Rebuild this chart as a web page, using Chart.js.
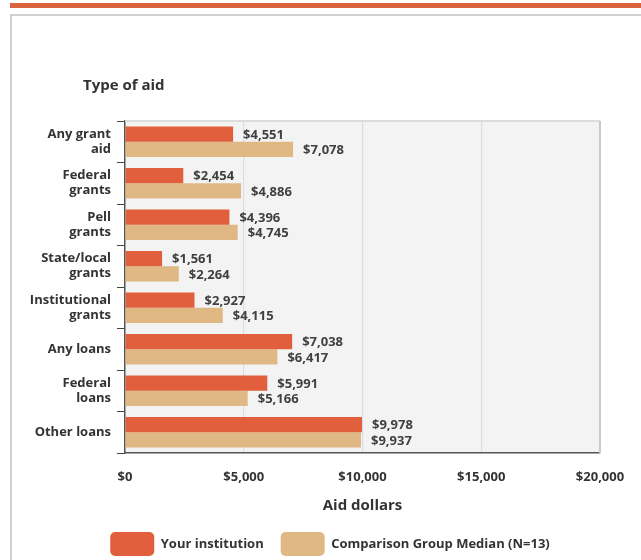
<!DOCTYPE html>
<html>
<head>
<meta charset="utf-8">
<script src="https://cdn.jsdelivr.net/npm/chart.js@4/dist/chart.umd.min.js"></script>
<style>
  html, body { margin: 0; padding: 0; width: 641px; height: 560px; overflow: hidden; background: #fff; }
  #topbar { position: absolute; left: 10px; top: 3px; width: 631px; height: 5px; background: #d9623f; }
  #panel { position: absolute; left: 10px; top: 14px; width: 660px; height: 600px; border: 2px solid #d0d0d0; box-sizing: border-box; }
  #wrap { position: absolute; left: 0; top: 0; width: 641px; height: 566px; }
</style>
</head>
<body>
<div id="topbar"></div>
<div id="panel"></div>
<div id="wrap"><canvas id="c" width="641" height="566"></canvas></div>
<script>
const chartTitle = 'Type of aid';
const categories = [
  ['Any grant', 'aid'],
  ['Federal', 'grants'],
  ['Pell', 'grants'],
  ['State/local', 'grants'],
  ['Institutional', 'grants'],
  'Any loans',
  ['Federal', 'loans'],
  'Other loans'
];
const seriesNames = ['Your institution', 'Comparison Group Median (N=13)'];
const yourInstitution = [4551, 2454, 4396, 1561, 2927, 7038, 5991, 9978];
const comparisonMedian = [7078, 4886, 4745, 2264, 4115, 6417, 5166, 9937];
const xTickValues = [0, 5000, 10000, 15000, 20000];
const xAxisTitle = 'Aid dollars';

const FONT = '"Open Sans", "DejaVu Sans", sans-serif';
const fmt = v => '$' + Number(v).toLocaleString('en-US');

const decorPlugin = {
  id: 'decor',
  beforeDraw(chart) {
    const {ctx, chartArea: a} = chart;
    ctx.save();
    ctx.fillStyle = '#f3f3f3';
    ctx.fillRect(a.left, a.top, a.right - a.left, a.bottom - a.top);
    ctx.restore();
  },
  afterLayout(chart) {
    if (chart.legend) { chart.legend.left = 20; chart.legend.right = 640; }
  },
  beforeDatasetsDraw(chart) {
    const {ctx, chartArea: a} = chart;
    ctx.save();
    ctx.strokeStyle = '#dcdcdc';
    ctx.lineWidth = 2;
    ctx.beginPath();
    ctx.moveTo(a.left, a.top);
    ctx.lineTo(a.right, a.top);
    ctx.stroke();
    ctx.strokeStyle = '#c9c9c9';
    ctx.beginPath();
    ctx.moveTo(a.right, a.top);
    ctx.lineTo(a.right, a.bottom);
    ctx.stroke();
    ctx.restore();
  },
  afterDatasetsDraw(chart) {
    const {ctx} = chart;
    ctx.save();
    ctx.font = 'bold 13px ' + FONT;
    ctx.fillStyle = '#404040';
    ctx.textBaseline = 'middle';
    ctx.textAlign = 'left';
    chart.data.datasets.forEach((ds, di) => {
      const meta = chart.getDatasetMeta(di);
      meta.data.forEach((bar, i) => {
        ctx.fillText(fmt(ds.data[i]), bar.x + 10, bar.y + 1);
      });
    });
    ctx.font = 'bold 15px ' + FONT;
    ctx.fillStyle = '#333';
    ctx.fillText(chartTitle, 83, 86);
    ctx.restore();
  }
};

new Chart(document.getElementById('c'), {
  type: 'bar',
  data: {
    labels: categories,
    datasets: [
      { label: seriesNames[0], data: yourInstitution, backgroundColor: '#e15f3c', borderWidth: 0 },
      { label: seriesNames[1], data: comparisonMedian, backgroundColor: '#dfb883', borderWidth: 0 }
    ]
  },
  options: {
    indexAxis: 'y',
    responsive: false,
    animation: false,
    devicePixelRatio: 1,
    layout: { padding: { top: 121, left: 20, right: 41, bottom: 0 } },
    datasets: { bar: { categoryPercentage: 0.73, barPercentage: 1.0 } },
    scales: {
      x: {
        min: 0, max: 20000,
        afterBuildTicks: s => { s.ticks = xTickValues.map(v => ({ value: v })); },
        afterFit: s => { s.height = 62; },
        ticks: {
          padding: 16,
          color: '#333',
          font: { family: FONT, size: 13, weight: 'bold' },
          callback: v => fmt(v)
        },
        grid: {
          drawTicks: false,
          color: ctx => (ctx.index === 0 || ctx.index === xTickValues.length - 1) ? 'rgba(0,0,0,0)' : '#d6deeb',
          lineWidth: 1.2
        },
        border: { display: true, color: '#555', width: 1.5 },
        title: {
          display: true, text: xAxisTitle, color: '#333',
          font: { family: FONT, size: 15, weight: 'bold' },
          padding: { top: 0, bottom: 0 }
        }
      },
      y: {
        afterFit: s => { s.width = 105; },
        ticks: {
          padding: 6,
          color: '#333',
          font: { family: FONT, size: 13, weight: 'bold', lineHeight: 1.15 }
        },
        grid: { drawOnChartArea: false, drawTicks: true, tickLength: 8, color: '#444', lineWidth: 1 },
        border: { display: true, color: '#555', width: 1.5 }
      }
    },
    plugins: {
      title: { display: false },
      tooltip: { enabled: false },
      legend: {
        position: 'bottom',
        labels: {
          boxWidth: 44, boxHeight: 24, padding: 17,
          useBorderRadius: true, borderRadius: 5,
          color: '#333',
          font: { family: FONT, size: 13, weight: 'bold' }
        }
      }
    }
  },
  plugins: [decorPlugin]
});
</script>
</body>
</html>
